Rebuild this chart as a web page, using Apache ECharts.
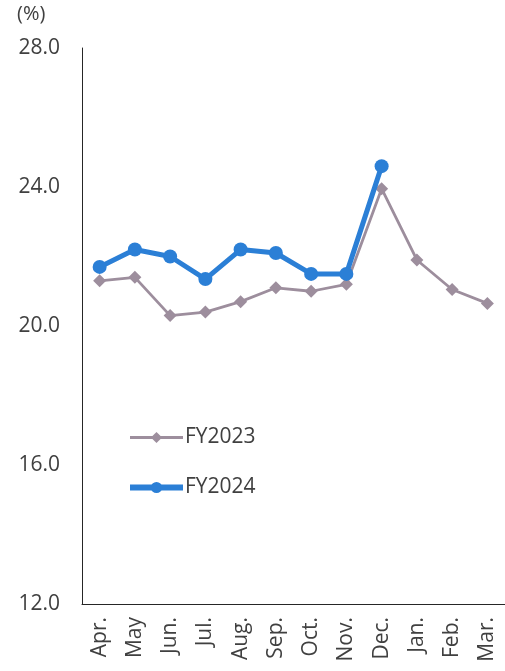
<!DOCTYPE html>
<html>
<head>
<meta charset="utf-8">
<script src="https://cdn.jsdelivr.net/npm/echarts@6/dist/echarts.min.js"></script>
<style>
  html, body { margin: 0; padding: 0; background: #fff; }
  #chart { width: 505px; height: 671px; }
</style>
</head>
<body>
<div id="chart"></div>
<script>
// Monthly ratio (%) by fiscal year, April to March
const months = ['Apr.', 'May', 'Jun.', 'Jul.', 'Aug.', 'Sep.', 'Oct.', 'Nov.', 'Dec.', 'Jan.', 'Feb.', 'Mar.'];
const fy2023 = [21.3, 21.4, 20.3, 20.4, 20.7, 21.1, 21.0, 21.2, 23.95, 21.9, 21.05, 20.65];
const fy2024 = [21.7, 22.2, 22.0, 21.35, 22.2, 22.1, 21.5, 21.5, 24.6, null, null, null];
const yTicks = { min: 12, max: 28, step: 4 };

const font = '"Open Sans", "Noto Sans", sans-serif';
const grey = '#9d8e9d';
const blue = '#2b7fd6';
const chart = echarts.init(document.getElementById('chart'), null, { renderer: 'canvas' });

chart.setOption({
  animation: false,
  backgroundColor: '#ffffff',
  textStyle: { fontFamily: font },
  graphic: [{
    type: 'text', left: 17, top: 4,
    style: { text: '(%)', fontSize: 20, fill: '#404040', fontFamily: font }
  }],
  grid: { left: 82, right: 0, top: 48, bottom: 67, containLabel: false },
  legend: {
    orient: 'vertical',
    left: 122, top: 422,
    itemGap: 29,
    itemWidth: 53, itemHeight: 14,
    textStyle: { fontSize: 21, color: '#404040', fontFamily: font, padding: [0, 0, 0, -3] },
    data: [
      { name: 'FY2023', lineStyle: { width: 3 } },
      { name: 'FY2024', lineStyle: { width: 6 } }
    ]
  },
  xAxis: {
    type: 'category',
    data: months,
    boundaryGap: true,
    axisLine: { lineStyle: { color: '#262626', width: 1 } },
    axisTick: { show: false },
    axisLabel: {
      rotate: 90, fontSize: 21, color: '#404040', margin: 13,
      interval: 0, fontFamily: font
    }
  },
  yAxis: {
    type: 'value',
    min: yTicks.min, max: yTicks.max, interval: yTicks.step,
    axisLine: { show: true, lineStyle: { color: '#262626', width: 1 } },
    axisTick: { show: false },
    splitLine: { show: false },
    axisLabel: {
      fontSize: 21, color: '#404040', margin: 22, fontFamily: font,
      formatter: v => v.toFixed(1)
    }
  },
  series: [
    {
      name: 'FY2023', type: 'line', data: fy2023,
      symbol: 'diamond', symbolSize: 13,
      lineStyle: { color: grey, width: 2.8 },
      itemStyle: { color: grey },
      z: 2
    },
    {
      name: 'FY2024', type: 'line', data: fy2024,
      symbol: 'circle', symbolSize: 14,
      lineStyle: { color: blue, width: 5 },
      itemStyle: { color: blue },
      connectNulls: false,
      z: 3
    }
  ]
});
</script>
</body>
</html>
